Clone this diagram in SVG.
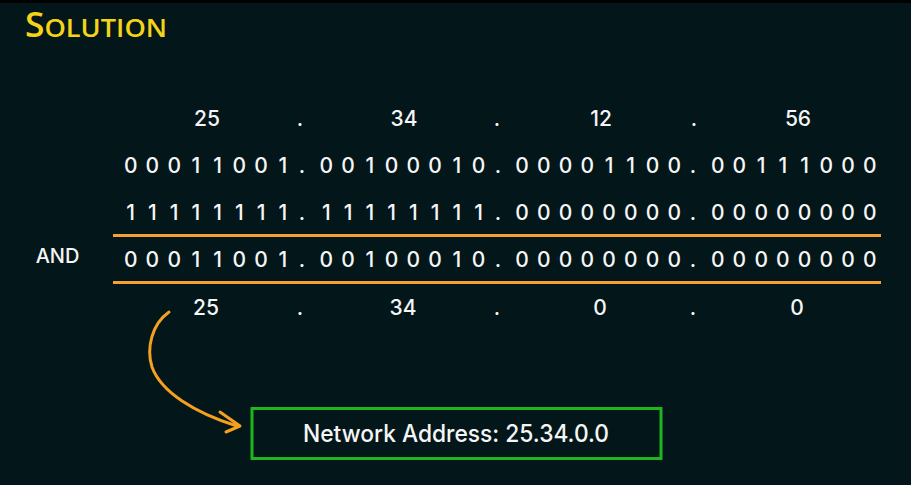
<svg xmlns="http://www.w3.org/2000/svg" width="911" height="485" viewBox="0 0 911 485">
<style>
.bg{fill:#031619}
.num{font-family:Inter,"Open Sans","Liberation Sans",sans-serif;font-size:21px;font-weight:500;fill:#f5f5f5;text-anchor:middle}
.lbl{font-family:Inter,"Open Sans","Liberation Sans",sans-serif;font-size:20px;font-weight:500;fill:#f5f5f5;text-anchor:middle}
.rule{stroke:#f5a030;stroke-width:3;fill:none}
.arrow{stroke:#f5a020;stroke-width:3;fill:none;stroke-linecap:round;stroke-linejoin:round}
.box{fill:none;stroke:#1fb51f;stroke-width:3}
.title{font-family:"Open Sans","Liberation Sans",sans-serif;fill:#f5d418;font-weight:600}
</style>
<rect class="bg" x="0" y="0" width="911" height="485"/>
<rect x="0" y="0" width="911" height="3" fill="#000"/>
<g id="title">
<text class="title" x="25" y="37" font-size="34" textLength="142" lengthAdjust="spacingAndGlyphs">S<tspan font-size="26">OLUTION</tspan></text>
</g>
<g id="decimal-ip">
<text class="num" y="126"><tspan x="207">25</tspan><tspan x="300">.</tspan><tspan x="404">34</tspan><tspan x="497">.</tspan><tspan x="601">12</tspan><tspan x="694">.</tspan><tspan x="798">56</tspan></text>
</g>
<g id="binary-ip">
<text class="num" y="173" x="130.7 152.4 174.2 195.9 217.7 239.4 261.1 282.9 302 326.4 348.1 369.8 391.6 413.3 435.1 456.8 478.5 498 522.0 543.8 565.5 587.2 609.0 630.7 652.5 674.2 693 717.7 739.4 761.2 782.9 804.6 826.4 848.1 869.9">00011001.00100010.00001100.00111000</text>
</g>
<g id="binary-mask">
<text class="num" y="220" x="130.7 152.4 174.2 195.9 217.7 239.4 261.1 282.9 302 326.4 348.1 369.8 391.6 413.3 435.1 456.8 478.5 498 522.0 543.8 565.5 587.2 609.0 630.7 652.5 674.2 693 717.7 739.4 761.2 782.9 804.6 826.4 848.1 869.9">11111111.11111111.00000000.00000000</text>
</g>
<g id="rules">
<line class="rule" x1="113" y1="235.5" x2="881" y2="235.5"/>
<line class="rule" x1="113" y1="282.5" x2="881" y2="282.5"/>
</g>
<g id="and-label">
<text class="lbl" x="57.5" y="263">AND</text>
</g>
<g id="binary-result">
<text class="num" y="267" x="130.7 152.4 174.2 195.9 217.7 239.4 261.1 282.9 302 326.4 348.1 369.8 391.6 413.3 435.1 456.8 478.5 498 522.0 543.8 565.5 587.2 609.0 630.7 652.5 674.2 693 717.7 739.4 761.2 782.9 804.6 826.4 848.1 869.9">00011001.00100010.00000000.00000000</text>
</g>
<g id="decimal-result">
<text class="num" y="315"><tspan x="206">25</tspan><tspan x="300">.</tspan><tspan x="403">34</tspan><tspan x="497">.</tspan><tspan x="600">0</tspan><tspan x="693">.</tspan><tspan x="797">0</tspan></text>
</g>
<g id="connectors">
<path class="arrow" d="M169,312 C152,324 146,348 152,367 C161,392 195,413 237,426"/>
<path class="arrow" d="M220,412 L240,426 L226,432"/>
</g>
<g id="network-address">
<rect class="box" x="252" y="408.5" width="409" height="50"/>
<text x="303" y="442" font-family="Inter,'Open Sans','Liberation Sans',sans-serif" font-size="24" font-weight="500" fill="#f5f5f5" textLength="306" lengthAdjust="spacingAndGlyphs">Network Address: 25.34.0.0</text>
</g>
</svg>
